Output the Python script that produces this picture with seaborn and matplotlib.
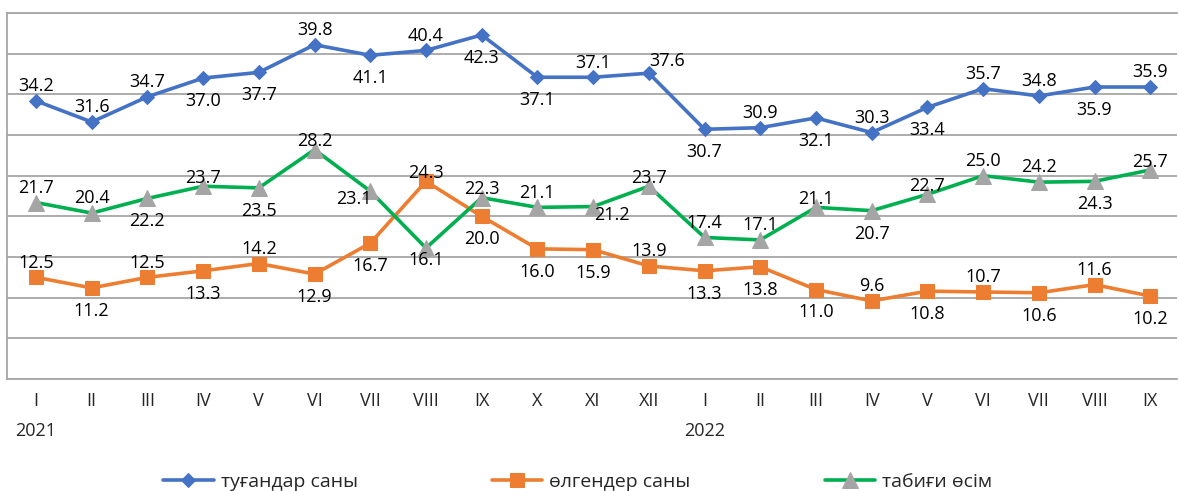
import numpy as np
import pandas as pd
import matplotlib.pyplot as plt
import seaborn as sns

months = ["I", "II", "III", "IV", "V", "VI", "VII", "VIII", "IX", "X", "XI", "XII",
          "I", "II", "III", "IV", "V", "VI", "VII", "VIII", "IX"]
years = ["2021"] + [""] * 11 + ["2022"] + [""] * 8

births = [34.2, 31.6, 34.7, 37.0, 37.7, 41.1, 39.8, 40.4, 42.3, 37.1, 37.1, 37.6,
          30.7, 30.9, 32.1, 30.3, 33.4, 35.7, 34.8, 35.9, 35.9]
# the printed labels for VI and VII are swapped in the source chart
births_shown = [34.2, 31.6, 34.7, 37.0, 37.7, 39.8, 41.1, 40.4, 42.3, 37.1, 37.1, 37.6,
                30.7, 30.9, 32.1, 30.3, 33.4, 35.7, 34.8, 35.9, 35.9]
deaths = [12.5, 11.2, 12.5, 13.3, 14.2, 12.9, 16.7, 24.3, 20.0, 16.0, 15.9, 13.9,
          13.3, 13.8, 11.0, 9.6, 10.8, 10.7, 10.6, 11.6, 10.2]
growth = [21.7, 20.4, 22.2, 23.7, 23.5, 28.2, 23.1, 16.1, 22.3, 21.1, 21.2, 23.7,
          17.4, 17.1, 21.1, 20.7, 22.7, 25.0, 24.2, 24.3, 25.7]

names = ["туғандар саны", "өлгендер саны", "табиғи өсім"]

# where each data label sits relative to its point
births_pos = ["a", "a", "a", "b", "b", "a", "b", "a", "b", "b", "a", "ar",
              "b", "a", "b", "a", "b", "a", "a", "b", "a"]
deaths_pos = ["a", "b", "a", "b", "a", "b", "b", "ac", "b", "b", "b", "a",
              "b", "b", "b", "a", "b", "a", "b", "a", "b"]
growth_pos = ["a", "a", "b", "ac", "b", "ac", "l", "bc", "ac", "a", "r", "ac",
              "a", "a", "ac", "b", "ac", "a", "a", "b", "ac"]

place = {
    "a": ((0, 7), "center", "baseline"),
    "ac": ((0, 2.5), "center", "baseline"),
    "ar": ((0.5, 5), "left", "baseline"),
    "b": ((0, -10), "center", "top"),
    "bc": ((0, -2), "center", "top"),
    "l": ((1, -6), "right", "center"),
    "r": ((1, -6), "left", "center"),
}

sns.set_style("white")
plt.rcParams["font.family"] = ["Open Sans", "DejaVu Sans"]

fig = plt.figure(figsize=(11.79, 4.91), dpi=100)
ax = fig.add_axes([7 / 1179, 1 - 379 / 491, 1170 / 1179, 366 / 491])

x = np.arange(len(months))
grid_col = "#a6a6a6"

sns.lineplot(x=x, y=births, ax=ax, color="#4472C4", lw=2.6, marker="D", markersize=6.8,
             markeredgecolor="#4472C4", markerfacecolor="#4472C4", label=names[0])
sns.lineplot(x=x, y=deaths, ax=ax, color="#ED7D31", lw=2.6, marker="s", markersize=9.5,
             markeredgecolor="#ED7D31", markerfacecolor="#ED7D31", label=names[1])
sns.lineplot(x=x, y=growth, ax=ax, color="#00B050", lw=2.6, marker="^", markersize=11,
             markeredgecolor="#A5A5A5", markerfacecolor="#A5A5A5", label=names[2])

for vals, shown, pos in [(births, births_shown, births_pos),
                         (deaths, deaths, deaths_pos),
                         (growth, growth, growth_pos)]:
    for i in range(len(vals)):
        off, ha, va = place[pos[i]]
        ax.annotate(f"{shown[i]:.1f}", (x[i], vals[i]), xytext=off, textcoords="offset points",
                    ha=ha, va=va, fontsize=13, color="black", zorder=5)

ax.set_xlim(-0.52, 20.48)
ax.set_ylim(0, 45)
ax.set_yticks(np.arange(0, 46, 5))
ax.set_yticklabels([])
ax.set_xticks(x)
ax.set_xticklabels([m + ("\n" + y if y else "") for m, y in zip(months, years)], fontsize=13)
for t in ax.get_xticklabels():
    t.set_linespacing(1.9)
ax.tick_params(length=0)
ax.tick_params(axis="x", pad=9)
ax.grid(axis="y", color=grid_col, lw=1.3)
ax.set_xlabel("")
ax.set_ylabel("")
for s in ["left", "bottom", "top"]:
    ax.spines[s].set_color(grid_col)
    ax.spines[s].set_linewidth(1.3)
ax.spines["right"].set_visible(False)

handles, labels = ax.get_legend_handles_labels()
ax.legend(handles, labels, loc="center", bbox_to_anchor=(0.49, 0.018),
          bbox_transform=fig.transFigure, ncol=3, frameon=False, fontsize=14,
          handlelength=2.6, handletextpad=0.36, columnspacing=6.9)

fig.savefig("out.png", dpi=100)
